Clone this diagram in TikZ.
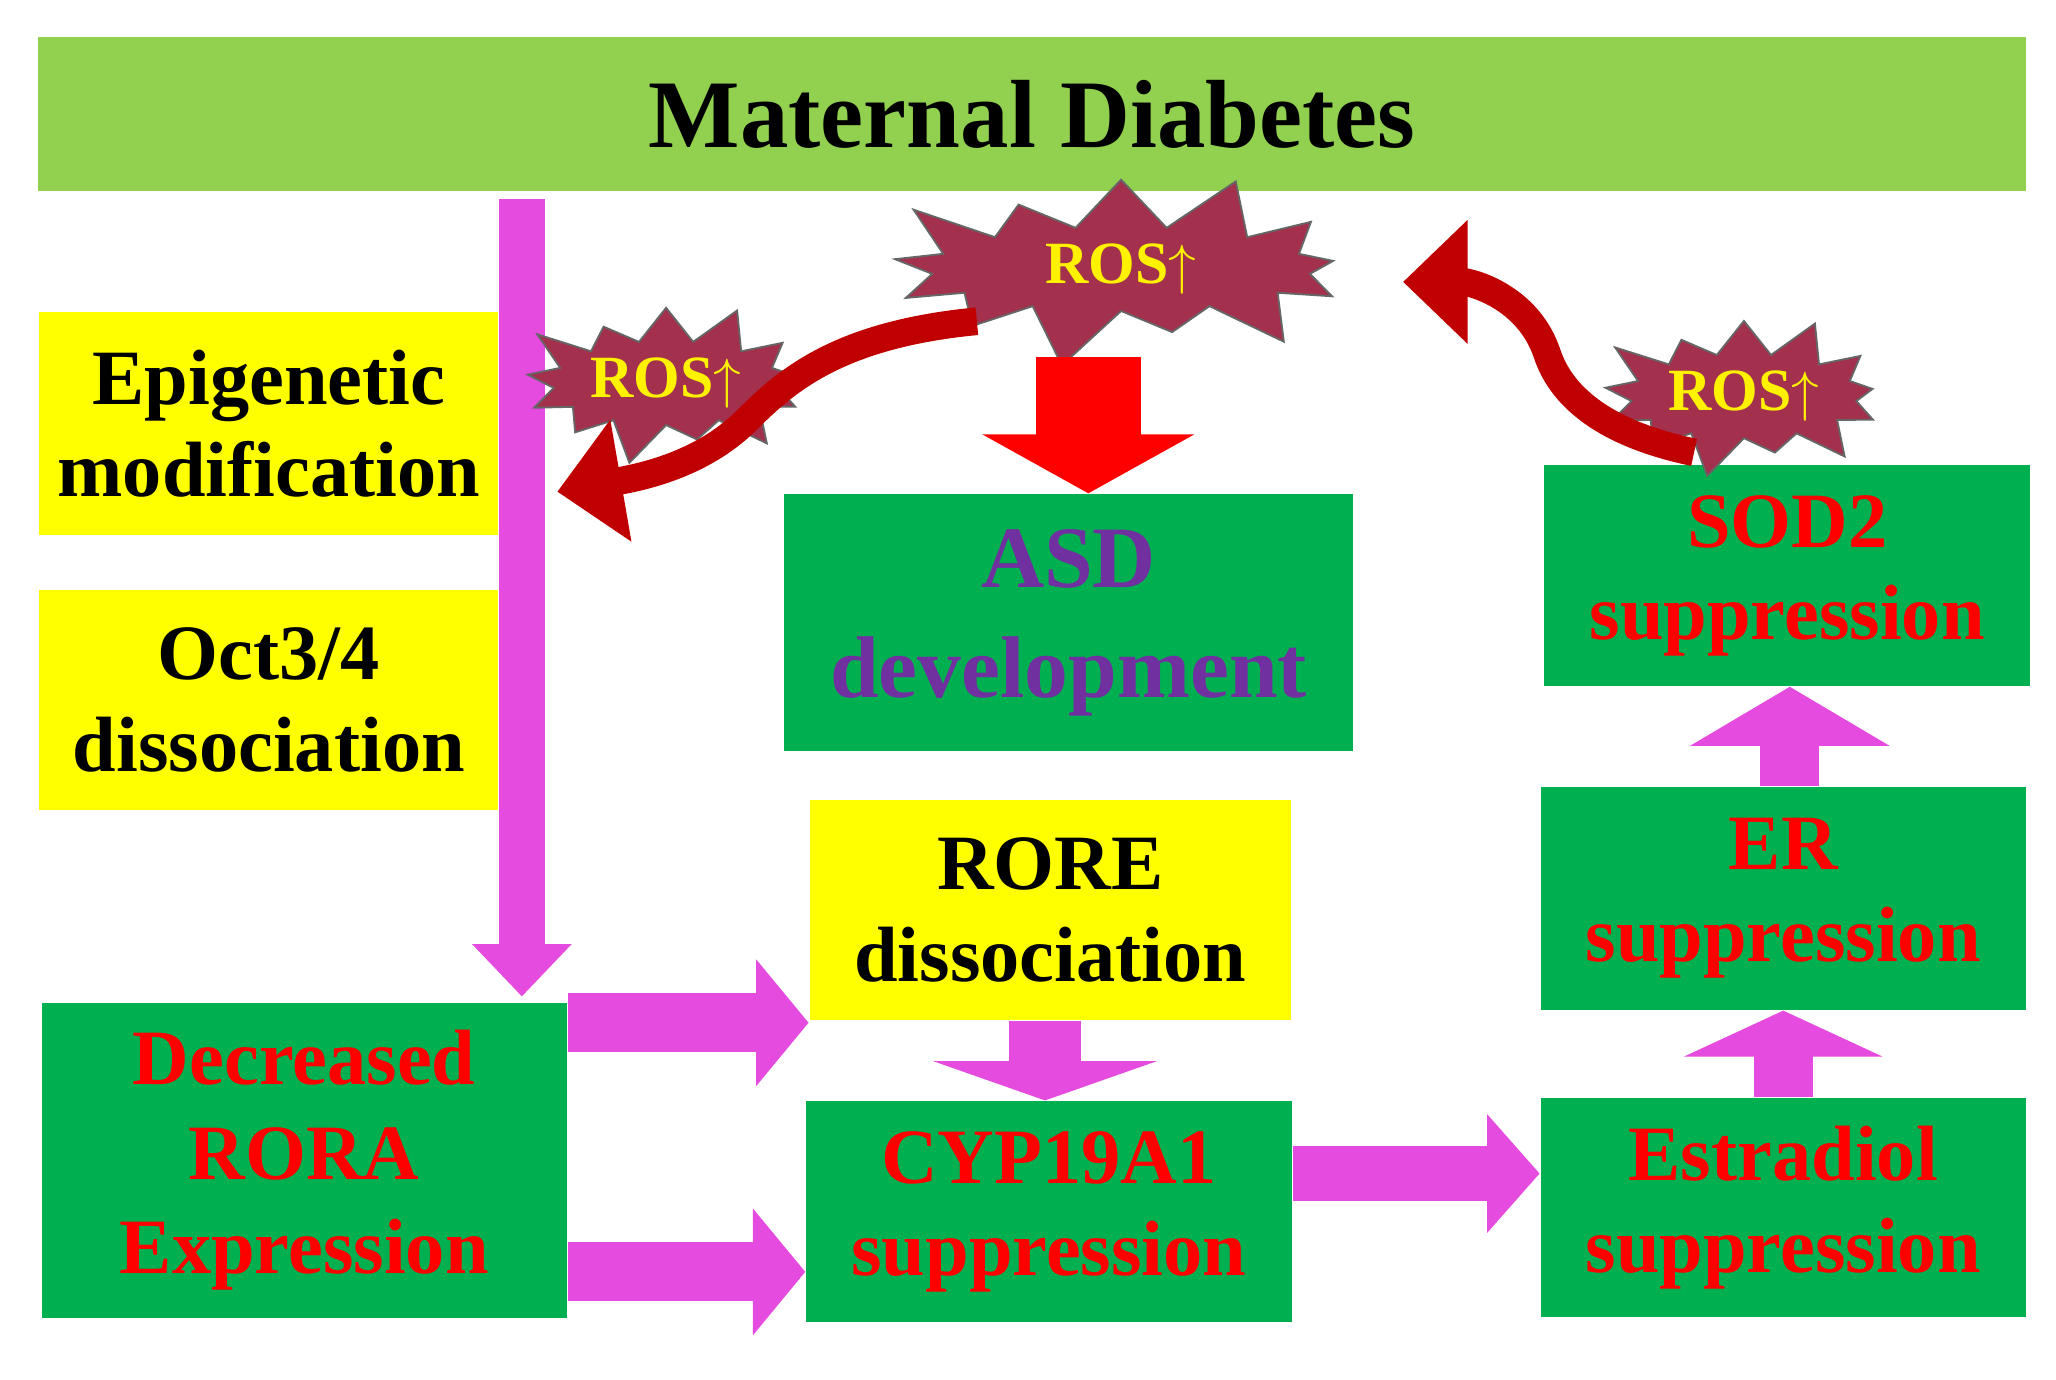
\documentclass[tikz,border=0pt]{standalone}
\usepackage{fontspec}
\setmainfont{Liberation Serif}
\usetikzlibrary{shapes.symbols,arrows.meta}
\definecolor{barGreen}{HTML}{92D050}
\definecolor{boxGreen}{HTML}{00B050}
\definecolor{boxYellow}{HTML}{FFFF00}
\definecolor{rosRed}{HTML}{A3304C}
\definecolor{curveRed}{HTML}{C00000}
\definecolor{pinkArrow}{HTML}{E64BE0}
\definecolor{asdPurple}{HTML}{7030A0}
\begin{document}
\begin{tikzpicture}[x=0.01cm,y=-0.01cm,
  greenbox/.style={fill=boxGreen,text=red,font=\bfseries\fontsize{17}{20}\selectfont,align=center,inner sep=0pt},
  yellowbox/.style={fill=boxYellow,text=black,font=\bfseries\fontsize{17}{20}\selectfont,align=center,inner sep=0pt},
  pinkarrow/.style={pinkArrow,line width=#1,-{Triangle[length=0.4cm,width=#1*2.1]}},
  ros/.style={starburst,starburst points=13,starburst point height=#1,fill=rosRed,draw=black!60,text=yellow,font=\bfseries\fontsize{13}{13}\selectfont,inner sep=1pt},
  curve/.style={line width=6pt,curveRed,-{Triangle[length=14pt,width=26pt]}}]
  \useasboundingbox (0,0) rectangle (1568,1052);
  \fill[white] (0,0) rectangle (1568,1052);

  % Top bar
  \node[fill=barGreen,minimum width=15.15cm,minimum height=1.17cm,font=\bfseries\fontsize{21}{25}\selectfont] (diabetes) at (787,87) {Maternal Diabetes};

  % Left column
  \node[yellowbox,minimum width=3.5cm,minimum height=1.7cm] (epi) at (205,323) {Epigenetic\\modification};
  \node[yellowbox,minimum width=3.5cm,minimum height=1.68cm] (oct) at (205,534) {Oct3/4\\dissociation};
  \node[greenbox,minimum width=4cm,minimum height=2.4cm,font=\bfseries\fontsize{17}{20.5}\selectfont] (rora) at (232,885) {Decreased\\RORA\\Expression};

  % Middle column
  \node[greenbox,text=asdPurple,minimum width=4.34cm,minimum height=1.96cm,font=\bfseries\fontsize{19}{24}\selectfont] (asd) at (815,475) {ASD\\development};
  \node[yellowbox,minimum width=3.67cm,minimum height=1.68cm] (rore) at (801,694) {RORE\\dissociation};
  \node[greenbox,minimum width=3.7cm,minimum height=1.68cm] (cyp) at (800,924) {CYP19A1\\suppression};

  % Right column
  \node[greenbox,minimum width=3.7cm,minimum height=1.68cm] (sod) at (1363,439) {SOD2\\suppression};
  \node[greenbox,minimum width=3.7cm,minimum height=1.7cm] (er) at (1360,685) {ER\\suppression};
  \node[greenbox,minimum width=3.7cm,minimum height=1.67cm] (estr) at (1360,921) {Estradiol\\suppression};

  % Pink arrows
  \coordinate (topstart) at (398,152);
  \draw[pinkarrow=0.35cm] (topstart) -- (398,760);
  \draw[pinkarrow=0.45cm] (rora.east |- 0,780) -- (rore.west |- 0,780);
  \draw[pinkarrow=0.45cm] (rora.east |- 0,970) -- (cyp.west |- 0,970);
  \draw[pinkarrow=0.55cm,-{Triangle[length=0.3cm,width=1.7cm]}] (rore.south -| 797,0) -- (cyp.north -| 797,0);
  \draw[pinkarrow=0.42cm] (cyp.east |- 0,895) -- (estr.west |- 0,895);
  \draw[pinkarrow=0.45cm,-{Triangle[length=0.35cm,width=1.5cm]}] (estr.north -| 1360,0) -- (er.south -| 1360,0);
  \draw[pinkarrow=0.45cm,-{Triangle[length=0.45cm,width=1.5cm]}] (er.north -| 1365,0) -- (sod.south -| 1365,0);

  % ROS bursts
  \node[ros=0.5cm,minimum width=3.9cm,minimum height=1.3cm] (rosbig) at (855,205) {ROS$\uparrow$};
  \node[ros=0.35cm,minimum width=2.1cm,minimum height=0.95cm] (rosleft) at (508,292) {ROS$\uparrow$};
  \node[ros=0.35cm,minimum width=2.1cm,minimum height=0.95cm] (rosright) at (1330,302) {ROS$\uparrow$};

  % Red down arrow
  \draw[red,line width=0.8cm,-{Triangle[length=0.45cm,width=1.6cm]}] (830,272) -- (asd.north -| 830,0);

  % Curved arrows
  \coordinate (leftend) at (425,375);
  \coordinate (rightend) at (1070,215);
  \draw[curve] (745,245) .. controls (640,255) and (600,290) .. (570,320) .. controls (540,350) and (500,362) .. (leftend);
  \draw[curve] (1292,345) .. controls (1220,330) and (1190,300) .. (1180,270) .. controls (1165,225) and (1120,215) .. (rightend);
\end{tikzpicture}
\end{document}
